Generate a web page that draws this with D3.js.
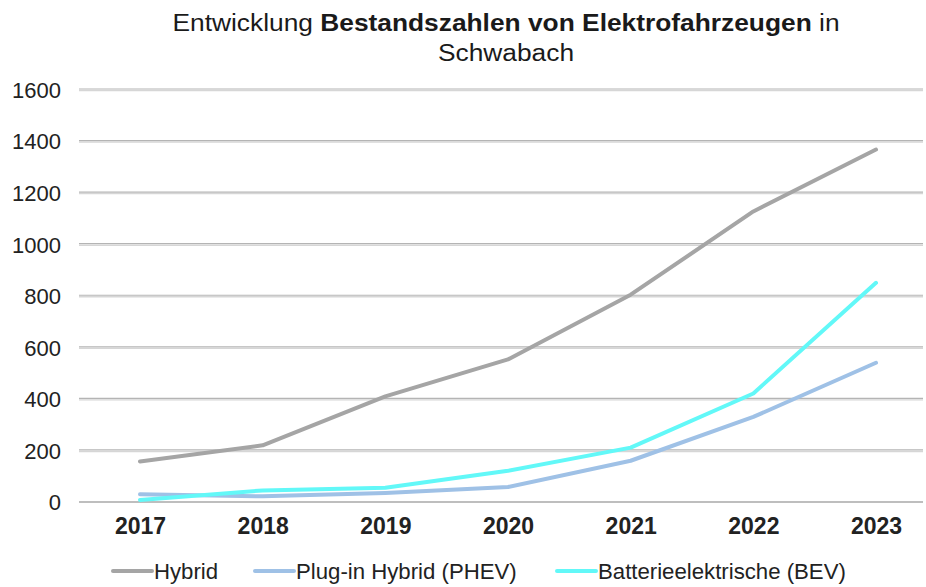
<!DOCTYPE html>
<html>
<head>
<meta charset="utf-8">
<script src="https://cdn.jsdelivr.net/npm/d3@7"></script>
<style>
  html, body { margin: 0; padding: 0; background: #fff; }
  svg { display: block; font-family: "Liberation Sans", Arial, sans-serif; }
</style>
</head>
<body>
<svg id="chart" width="926" height="587"></svg>
<script>
// Bestand an Elektrofahrzeugen in Schwabach, 2017–2023
const years = ["2017", "2018", "2019", "2020", "2021", "2022", "2023"];
const hybrid = [157, 220, 410, 553, 804, 1127, 1367];
const phev   = [30, 22, 35, 58, 160, 330, 540];
const bev    = [8, 45, 55, 121, 211, 421, 850];
const yTicks = [0, 200, 400, 600, 800, 1000, 1200, 1400, 1600];

const seriesNames  = ["Hybrid", "Plug-in Hybrid (PHEV)", "Batterieelektrische (BEV)"];
const seriesValues = [hybrid, phev, bev];
const seriesColors = ["#a5a5a5", "#9fc1e6", "#62f8f8"];

const svg = d3.select("#chart");

const x = d3.scalePoint().domain(years).range([140, 876]);
const y = d3.scaleLinear().domain([0, 1600]).range([502, 89.5]);

const gridLeft = 79, gridRight = 923;

// Horizontal grid lines (double-stroke look)
const grid = svg.append("g");
yTicks.forEach(t => {
  if (t === 0) return;
  grid.append("line")
    .attr("x1", gridLeft).attr("x2", gridRight)
    .attr("y1", y(t) - 0.5).attr("y2", y(t) - 0.5)
    .attr("stroke", "#b4b4b4").attr("stroke-width", 1.2);
  grid.append("line")
    .attr("x1", gridLeft).attr("x2", gridRight)
    .attr("y1", y(t) + 1).attr("y2", y(t) + 1)
    .attr("stroke", "#d6d6d6").attr("stroke-width", 1.4);
});
// Baseline
grid.append("line")
  .attr("x1", gridLeft).attr("x2", gridRight)
  .attr("y1", y(0)).attr("y2", y(0))
  .attr("stroke", "#a9a9a9").attr("stroke-width", 1.6);

// Y axis labels
const yAxis = d3.axisLeft(y).tickValues(yTicks).tickFormat(d3.format("d")).tickSize(0).tickPadding(0);
const gy = svg.append("g").attr("transform", "translate(61,0)").call(yAxis);
gy.select(".domain").remove();
gy.selectAll("text")
  .attr("font-family", "Liberation Sans, Arial, sans-serif")
  .attr("font-size", 22).attr("fill", "#222")
  .attr("dy", "0.36em");

// X axis labels
const xAxis = d3.axisBottom(x).tickSize(0).tickPadding(0);
const gx = svg.append("g").attr("transform", "translate(0,526)").call(xAxis);
gx.select(".domain").remove();
gx.selectAll("text")
  .attr("font-family", "Liberation Sans, Arial, sans-serif")
  .attr("font-size", 23).attr("font-weight", "bold").attr("fill", "#222")
  .attr("dy", "0.36em").attr("y", 0);

// Lines
const line = d3.line().x((d, i) => x(years[i])).y(d => y(d));
seriesValues.forEach((vals, k) => {
  svg.append("path")
    .datum(vals)
    .attr("d", line)
    .attr("fill", "none")
    .attr("stroke", seriesColors[k])
    .attr("stroke-width", 4)
    .attr("stroke-linejoin", "round")
    .attr("stroke-linecap", "round");
});

// Title (slightly widened lettering)
const titleG = svg.append("g").attr("transform", "translate(506,0) scale(1.075,1)");
const title = titleG.append("text")
  .attr("x", 0).attr("y", 31)
  .attr("text-anchor", "middle")
  .attr("font-size", 24.5).attr("fill", "#1a1a1a");
title.append("tspan").text("Entwicklung ");
title.append("tspan").attr("font-weight", "bold").text("Bestandszahlen von Elektrofahrzeugen");
title.append("tspan").text(" in");
titleG.append("text")
  .attr("x", 0).attr("y", 61)
  .attr("text-anchor", "middle")
  .attr("font-size", 24.5).attr("fill", "#1a1a1a")
  .text("Schwabach");

// Legend
const legendX = [113, 255, 557];
const legend = svg.append("g");
seriesNames.forEach((name, k) => {
  legend.append("line")
    .attr("x1", legendX[k]).attr("x2", legendX[k] + 39)
    .attr("y1", 571).attr("y2", 571)
    .attr("stroke", seriesColors[k]).attr("stroke-width", 4)
    .attr("stroke-linecap", "round");
  legend.append("text")
    .attr("x", legendX[k] + 41).attr("y", 571)
    .attr("dy", "0.36em")
    .attr("font-size", 22.2).attr("fill", "#222")
    .text(name);
});
</script>
</body>
</html>
